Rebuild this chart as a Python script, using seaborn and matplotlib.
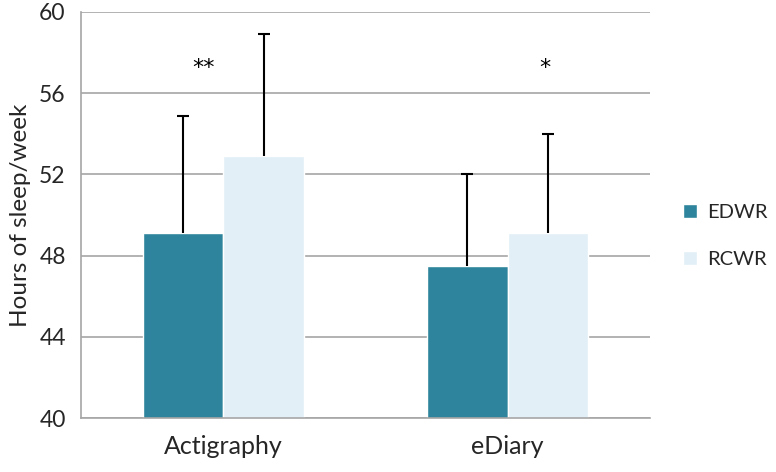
import pandas as pd
import matplotlib
matplotlib.use("Agg")
import matplotlib.pyplot as plt
import seaborn as sns

# data
categories = ["Actigraphy", "eDiary"]
groups = ["EDWR", "RCWR"]
edwr = [49.1, 47.5]
rcwr = [52.9, 49.1]
edwr_err = [5.8, 4.5]
rcwr_err = [6.0, 4.9]
stars = ["**", "*"]
yticks = [40, 44, 48, 52, 56, 60]

df = pd.DataFrame({
    "method": categories * 2,
    "group": [groups[0]] * 2 + [groups[1]] * 2,
    "hours": edwr + rcwr,
    "err": edwr_err + rcwr_err,
})

sns.set_style("white")
plt.rcParams["font.family"] = ["Lato", "DejaVu Sans"]

fig = plt.figure(figsize=(7.76, 4.72), dpi=100)
ax = fig.add_axes([0.1044, 0.1144, 0.7332, 0.8602])

palette = {"EDWR": "#2E849C", "RCWR": "#E2EFF7"}
sns.barplot(data=df, x="method", y="hours", hue="group", palette=palette,
            errorbar=None, width=0.567, saturation=1, ax=ax, zorder=2)

# upward-only error bars, positioned on the drawn bars
for cont, g in zip(ax.containers, groups):
    sub = df[df["group"] == g]
    xs = [p.get_x() + p.get_width() / 2 for p in cont.patches]
    ys = sub["hours"].tolist()
    es = sub["err"].tolist()
    eb = ax.errorbar(xs, ys, yerr=[[0] * len(es), es], fmt="none", ecolor="black",
                     elinewidth=1.5, capsize=4, capthick=1.5, zorder=3)
    eb[1][0].set_visible(False)  # hide lower cap

# significance stars
star_dx = [-0.07, 0.13]
for i, s in enumerate(stars):
    ax.text(i + star_dx[i], 57.25, s, ha="center", va="center",
            fontsize=16, color="black", family="DejaVu Sans")

ax.set_ylim(40, 60)
ax.set_xlim(-0.5, 1.5)
ax.set_yticks(yticks)
ax.set_yticklabels([str(t) for t in yticks])
ax.yaxis.grid(True, color="#A6A6A6", linewidth=1.2, zorder=0)
ax.set_axisbelow(True)

ax.set_xticks([-0.5, 0.5, 1.5], minor=False)
ax.set_xticklabels(["", "", ""])
ax.set_xticks([0, 1], minor=True)
ax.set_xticklabels(categories, minor=True)
ax.tick_params(axis="x", which="major", direction="out", length=8, width=1.2, color="#A6A6A6")
ax.tick_params(axis="x", which="minor", length=0, pad=12, labelsize=18)
ax.tick_params(axis="y", direction="out", length=6, width=1.2, color="#A6A6A6",
               labelsize=16.5, pad=5)

for side in ["top", "right"]:
    ax.spines[side].set_visible(False)
for side in ["left", "bottom"]:
    ax.spines[side].set_color("#A6A6A6")
    ax.spines[side].set_linewidth(1.2)

ax.set_xlabel("")
ax.set_ylabel("Hours of sleep/week", fontsize=17.5, labelpad=6)

leg = ax.legend(loc="center left", bbox_to_anchor=(1.022, 0.448), frameon=False,
                fontsize=14.5, handlelength=0.7, handleheight=0.7, labelspacing=1.5,
                handletextpad=0.5, borderaxespad=0.6)

fig.savefig("out.png", dpi=100)
